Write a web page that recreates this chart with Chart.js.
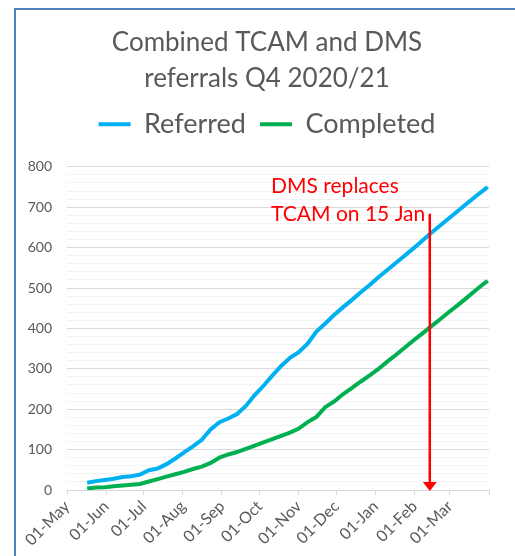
<!DOCTYPE html>
<html>
<head>
<meta charset="utf-8">
<script src="https://cdn.jsdelivr.net/npm/chart.js@4.4.1/dist/chart.umd.min.js"></script>
<style>
  html, body { margin: 0; padding: 0; background: #fff; }
  #wrap { position: relative; width: 515px; height: 556px; }
  #frame {
    position: absolute; left: 14px; top: 8px; right: 0; bottom: 0;
    border-left: 2px solid #4f81bd; border-top: 2px solid #4f81bd;
    pointer-events: none;
  }
</style>
</head>
<body>
<div id="wrap">
  <canvas id="chart" width="515" height="556"></canvas>
  <div id="frame"></div>
</div>
<script>
  // days counted from 01-May
  const days = [16, 23, 30, 37, 44, 51, 58, 65, 72, 79, 86, 93, 100, 107, 114, 121,
    128, 135, 142, 149, 156, 163, 170, 177, 184, 191, 198, 205, 212, 219, 226, 233,
    240, 247, 254, 261, 268, 275, 282, 289, 296, 303, 310, 317, 324, 331, 334];

  const referred = [18, 22, 25, 28, 32, 34, 38, 49, 53, 64, 78, 93, 108, 124, 150, 168,
    177, 188, 208, 235, 258, 283, 307, 327, 341, 362, 392, 412, 433, 452, 470, 489,
    507, 526, 544, 562, 580, 598, 617, 636, 654, 672, 690, 708, 726, 743, 750];

  const completed = [4, 6, 7, 9, 11, 13, 15, 21, 27, 33, 39, 45, 52, 58, 67, 80,
    88, 94, 102, 110, 118, 126, 134, 142, 152, 168, 181, 205, 219, 237, 252, 268,
    283, 299, 317, 334, 352, 370, 387, 405, 422, 440, 457, 475, 493, 511, 518];

  const monthStarts = [0, 31, 61, 92, 123, 153, 184, 214, 245, 276, 304, 335];
  const monthLabels = ['01-May', '01-Jun', '01-Jul', '01-Aug', '01-Sep', '01-Oct',
    '01-Nov', '01-Dec', '01-Jan', '01-Feb', '01-Mar', ''];

  const noteLines = ['DMS replaces', 'TCAM on 15 Jan'];
  const noteDay = 162;
  const noteValues = [736, 667];
  const arrowDay = 288;
  const arrowTop = 684;

  const FONT = 'Lato, "Open Sans", sans-serif';
  const GREY = '#595959';

  // extra room under the legend, and title/legend centred on the whole frame
  const headerLayout = {
    id: 'headerLayout',
    beforeInit(chart) {
      const fit = chart.legend.fit;
      chart.legend.fit = function() {
        fit.call(this);
        this.height += 19;
      };
    },
    afterLayout(chart) {
      [chart.titleBlock, chart.legend].forEach(box => {
        box.left += 9;
        box.right += 9;
      });
    }
  };

  const markerPlugin = {
    id: 'marker',
    afterDatasetsDraw(chart) {
      const ctx = chart.ctx;
      const x = chart.scales.x;
      const y = chart.scales.y;
      const ax = x.getPixelForValue(arrowDay);
      const yTop = y.getPixelForValue(arrowTop);
      const yBot = y.getPixelForValue(0);
      ctx.save();
      ctx.strokeStyle = '#ff0000';
      ctx.fillStyle = '#ff0000';
      ctx.lineWidth = 2.5;
      ctx.beginPath();
      ctx.moveTo(ax, yTop);
      ctx.lineTo(ax, yBot - 6);
      ctx.stroke();
      ctx.beginPath();
      ctx.moveTo(ax - 7, yBot - 8);
      ctx.lineTo(ax + 7, yBot - 8);
      ctx.lineTo(ax, yBot + 1);
      ctx.closePath();
      ctx.fill();
      ctx.font = '21px ' + FONT;
      ctx.textAlign = 'left';
      ctx.textBaseline = 'alphabetic';
      noteLines.forEach((t, i) => {
        ctx.fillText(t, x.getPixelForValue(noteDay), y.getPixelForValue(noteValues[i]));
      });
      ctx.restore();
    }
  };

  new Chart(document.getElementById('chart'), {
    type: 'line',
    data: {
      datasets: [
        {
          label: 'Referred',
          data: days.map((d, i) => ({ x: d, y: referred[i] })),
          borderColor: '#00b0f0',
          backgroundColor: '#00b0f0',
          borderWidth: 4,
          pointRadius: 0,
          tension: 0
        },
        {
          label: 'Completed',
          data: days.map((d, i) => ({ x: d, y: completed[i] })),
          borderColor: '#00b050',
          backgroundColor: '#00b050',
          borderWidth: 4,
          pointRadius: 0,
          tension: 0
        }
      ]
    },
    options: {
      responsive: false,
      animation: false,
      layout: { padding: { left: 27, right: 26, top: 20, bottom: 4 } },
      plugins: {
        title: {
          display: true,
          text: ['Combined TCAM and DMS', 'referrals Q4 2020/21'],
          color: GREY,
          font: { family: FONT, size: 26, weight: 'normal', lineHeight: 1.4 },
          padding: { top: 4, bottom: 0 }
        },
        legend: {
          display: true,
          labels: {
            color: GREY,
            font: { family: FONT, size: 27 },
            usePointStyle: true,
            pointStyle: 'line',
            pointStyleWidth: 32,
            padding: 14
          }
        },
        tooltip: { enabled: false }
      },
      scales: {
        x: {
          type: 'linear',
          min: 0,
          max: 335,
          afterBuildTicks(scale) {
            scale.ticks = monthStarts.map(v => ({ value: v }));
          },
          afterFit(scale) {
            scale.height = 62;
            scale.paddingLeft = 0;
            scale.paddingRight = 0;
          },
          grid: {
            drawOnChartArea: false,
            drawTicks: true,
            tickLength: 5,
            color: '#d9d9d9'
          },
          border: { display: true, color: '#d9d9d9' },
          ticks: {
            autoSkip: false,
            maxRotation: 45,
            minRotation: 45,
            color: GREY,
            font: { family: FONT, size: 16 },
            padding: 2,
            callback(value) {
              const i = monthStarts.indexOf(value);
              return i >= 0 ? monthLabels[i] : '';
            }
          }
        },
        y: {
          min: 0,
          max: 800,
          afterFit(scale) {
            scale.width = 40;
          },
          border: { display: false },
          grid: {
            drawTicks: false,
            color(c) {
              return c.tick && c.tick.value % 100 === 0 ? '#d9d9d9' : '#f2f2f2';
            }
          },
          ticks: {
            stepSize: 20,
            autoSkip: false,
            color: GREY,
            font: { family: FONT, size: 14 },
            padding: 15,
            callback(value) {
              return value % 100 === 0 ? value : '';
            }
          }
        }
      }
    },
    plugins: [headerLayout, markerPlugin]
  });
</script>
</body>
</html>
